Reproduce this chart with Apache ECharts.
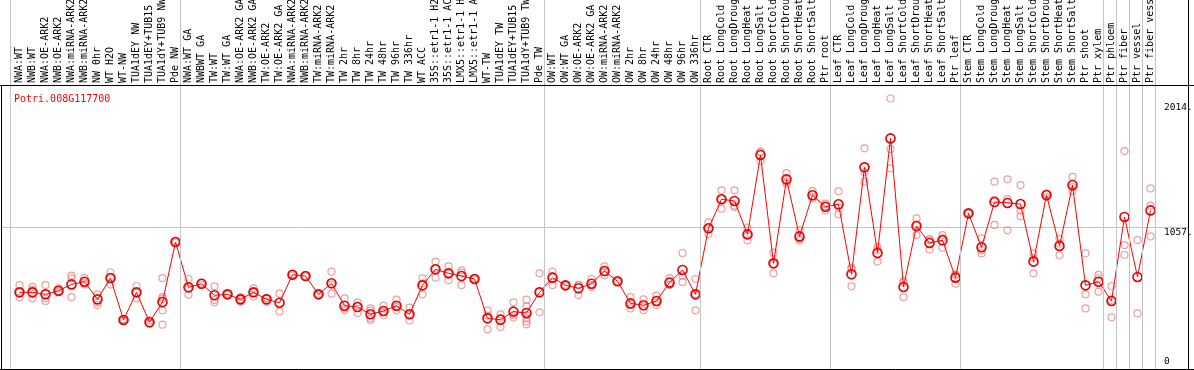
<!DOCTYPE html>
<html>
<head>
<meta charset="utf-8">
<script src="https://cdn.jsdelivr.net/npm/echarts@6/dist/echarts.min.js"></script>
<style>html,body{margin:0;padding:0;background:#fff;}#c{width:1194px;height:370px;}</style>
</head>
<body>
<div id="c"></div>
<script>
const geneName = 'Potri.008G117700';
const categories = [
 'NWA:WT','NWB:WT','NWA:OE-ARK2','NWB:OE-ARK2','NWA:miRNA-ARK2','NWB:miRNA-ARK2','NW 0hr','WT H2O','WT-NW','TUA1dEY NW','TUA1dEY+TUB15','TUA1dY+TUB9 NW','Pde NW',
 'NWA:WT GA','NWBWT GA','TW:WT','TW:WT GA','NWA:OE-ARK2 GA','NWB:OE-ARK2 GA','TW:OE-ARK2','TW:OE-ARK2 GA','NWA:miRNA-ARK2','NWB:miRNA-ARK2','TW:miRNA-ARK2','TW:miRNA-ARK2',
 'TW 2hr','TW 8hr','TW 24hr','TW 48hr','TW 96hr','TW 336hr','WT ACC','35S::etr1-1 H2','35S::etr1-1 AC','LMX5::etr1-1 H','LMX5::etr1-1 A','WT-TW','TUA1dEY TW','TUA1dEY+TUB15','TUA1dY+TUB9 TW','Pde TW',
 'OW:WT','OW:WT GA','OW:OE-ARK2','OW:OE-ARK2 GA','OW:miRNA-ARK2','OW:miRNA-ARK2','OW 2hr','OW 8hr','OW 24hr','OW 48hr','OW 96hr','OW 336hr',
 'Root CTR','Root LongCold','Root LongDroug','Root LongHeat','Root LongSalt','Root ShortCold','Root ShortDrou','Root ShortHeat','Root ShortSalt','Ptr root',
 'Leaf CTR','Leaf LongCold','Leaf LongDroug','Leaf LongHeat','Leaf LongSalt','Leaf ShortCold','Leaf ShortDrou','Leaf ShortHeat','Leaf ShortSalt','Ptr leaf',
 'Stem CTR','Stem LongCold','Stem LongDroug','Stem LongHeat','Stem LongSalt','Stem ShortCold','Stem ShortDrou','Stem ShortHeat','Stem ShortSalt','Ptr shoot','Ptr xylem',
 'Ptr phloem','Ptr fiber','Ptr vessel','Ptr fiber vess'
];
const meanValues = [
 576,576,561,588,635,655,524,682,371,576,354,504,949,
 613,640,554,561,524,576,524,499,707,697,561,643,
 477,467,413,438,477,413,628,747,717,697,675,383,373,433,423,576,
 685,628,606,640,734,658,494,480,512,648,742,561,
 1051,1266,1254,1006,1595,791,1414,991,1296,1211,
 1229,710,1503,868,1718,616,1068,942,962,685,
 1162,910,1246,1239,1231,804,1298,920,1372,628,655,
 512,1135,690,1184
];
const replicateValues = [
 [630,576,539],[616,595,532],[630,532,512],[606,583,575],[700,680,541],[682,635,648],[561,502,482],[725,635,686],[375,365,372],[623,532,573],[368,344,350],[682,541,527,443,336],[955,943],
 [675,559,605],[648,632],[621,519,502],[565,557],[541,507,524],[606,546,576],[532,507,533],[566,433],[712,702],[700,694],[565,557],[729,566,634],
 [532,443,456],[502,423,476],[457,383,371,441],[477,408,429],[522,443,466],[462,368,409],[680,561,643],[804,685,752],[769,665,717],[739,722,630],[680,670],[443,302,404],[413,319,387],[502,408,389],[522,472,408,383,359,339],[717,428,583],
 [729,630,696],[632,624],[630,556,632],[675,616,629],[769,705,728],[660,656],[541,457,484],[524,443,473],[551,502,483],[682,630,632],[868,700,652],[675,443,565],
 [1095,1009,1049],[1333,1197,1268],[1333,1209,1220],[1057,962,999],[1615,1550,1620],[870,717,786],[1461,1397,1384],[1036,962,975],[1328,1273,1287],[1234,1184,1215],
 [1325,1155,1207],[759,621,750],[1644,1466,1397],[912,804,888],[2014,1639,1496],[660,541,647],[1125,1001,1078],[962,893,971],[1001,907,978],[710,640,705],
 [1165,1159],[977,865,888],[1397,1263,1076],[1414,1036,1267],[1372,1184,1140],[865,717,830],[1283,1305,1306],[972,851,937],[1432,1328,1356],[865,561,457],[705,581,679],
 [623,391,522],[1624,927,853],[964,420],[1347,1219,991]
];
const groupEnds = [12,40,52,62,72,83,84,85,86,87];
const yTickValues = [0, 1057, 2014];
const yTickLabels = ['0', '1057.', '2014.'];
const Y_MAX = 2114;

const MONO = "'DejaVu Sans Mono', 'Liberation Mono', monospace";
const XMIN = -18.5/13;
const XMAX = XMIN + 1187/13;
const sepValues = [-9/13].concat(groupEnds.map(i => i + 5/13));
const repData = [];
replicateValues.forEach((arr, i) => arr.forEach(v => repData.push([i, v])));
const meanData = meanValues.map((v, i) => [i, v]);

const sepMark = {
  silent: true, animation: false, symbol: ['none','none'],
  label: {show: false}, emphasis: {disabled: true},
  lineStyle: {color: '#c4c4c4', width: 1, type: 'solid'},
  data: sepValues.map(v => ({xAxis: v}))
};
function yLabelAxis(idx, va, pad) {
  return {
    gridIndex: 0, type: 'value', min: 0, max: Y_MAX, position: 'right',
    axisLine: {show: false}, axisTick: {show: false}, splitLine: {show: false},
    axisLabel: {
      customValues: [yTickValues[idx]], formatter: () => yTickLabels[idx],
      inside: true, align: 'left', margin: 24, verticalAlign: va, padding: pad,
      fontSize: 9.5, fontFamily: MONO, color: '#000'
    }
  };
}
const chart = echarts.init(document.getElementById('c'), null, {renderer: 'canvas'});
chart.setOption({
  animation: false,
  backgroundColor: '#fff',
  title: {text: geneName, left: 9, top: 89, textStyle: {color: '#ff0000', fontSize: 10, fontWeight: 'normal', fontFamily: MONO}},
  grid: [
    {left: 1, right: 6, top: 85, height: 285, outerBoundsMode: 'none', containLabel: false},
    {left: 1, right: 6, top: 0, height: 85, outerBoundsMode: 'none', containLabel: false}
  ],
  xAxis: [
    {gridIndex: 0, type: 'value', min: XMIN, max: XMAX, position: 'top',
     axisLine: {show: false}, axisTick: {show: false}, splitLine: {show: false},
     axisLabel: {customValues: categories.map((c, i) => i), formatter: v => categories[Math.round(v)],
       rotate: 90, margin: 2, fontSize: 10, fontFamily: MONO, color: '#000'}},
    {gridIndex: 1, type: 'value', min: XMIN, max: XMAX, show: false}
  ],
  yAxis: [
    Object.assign(yLabelAxis(2, 'top', [4,0,0,0]), {interval: 1057,
      splitLine: {show: true, showMinLine: false, showMaxLine: false, lineStyle: {color: '#c4c4c4', width: 1}}}),
    yLabelAxis(1, 'top', [0,0,0,0]),
    yLabelAxis(0, 'bottom', [0,0,3,0]),
    {gridIndex: 1, type: 'value', min: 0, max: 1, show: false}
  ],
  series: [
    {type: 'line', xAxisIndex: 1, yAxisIndex: 3, data: [], showSymbol: false, silent: true, markLine: sepMark},
    {type: 'scatter', xAxisIndex: 0, yAxisIndex: 0, data: repData, symbol: 'circle', symbolSize: 7, silent: true,
     itemStyle: {color: 'rgba(0,0,0,0)', borderColor: '#e68888', borderWidth: 1.2}, markLine: sepMark, z: 2},
    {type: 'line', xAxisIndex: 0, yAxisIndex: 0, data: meanData, symbol: 'circle', symbolSize: 9, showSymbol: true, silent: true,
     lineStyle: {color: '#ff0000', width: 1}, itemStyle: {color: 'rgba(0,0,0,0)', borderColor: '#e80000', borderWidth: 1.6}, z: 3}
  ],
  graphic: [
    {type: 'line', shape: {x1: 0, y1: 85.5, x2: 1194, y2: 85.5}, style: {stroke: '#000', lineWidth: 1}, z: 100, silent: true},
    {type: 'line', shape: {x1: 0, y1: 369.5, x2: 1194, y2: 369.5}, style: {stroke: '#000', lineWidth: 1}, z: 100, silent: true},
    {type: 'line', shape: {x1: 1.5, y1: 85, x2: 1.5, y2: 370}, style: {stroke: '#000', lineWidth: 1}, z: 100, silent: true},
    {type: 'line', shape: {x1: 1188.5, y1: 0, x2: 1188.5, y2: 370}, style: {stroke: '#000', lineWidth: 1}, z: 100, silent: true}
  ]
});
</script>
</body>
</html>
